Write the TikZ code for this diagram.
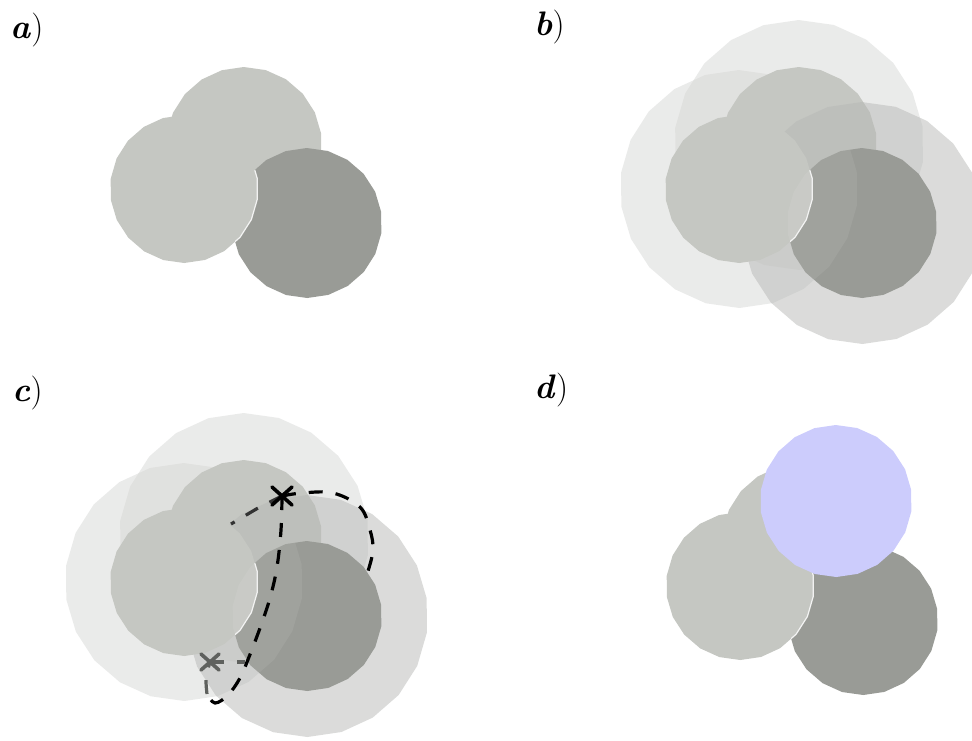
\documentclass[tikz,border=0pt]{standalone}
\usepackage{xcolor}
\usetikzlibrary{calc}
\definecolor{atomlight}{RGB}{197,199,194}
\definecolor{atomdark}{RGB}{153,155,150}
\definecolor{halolight}{RGB}{214,215,213}
\definecolor{halodark}{RGB}{183,184,182}
\definecolor{probeblue}{RGB}{204,204,252}
\definecolor{markgrey}{RGB}{95,97,94}
\newcommand\polyat[3]{plot[samples=23,domain=8:368,variable=\ang]({#1+#3*cos(\ang)},{#2+#3*sin(\ang)}) -- cycle}
\tikzset{
  halo/.style={fill opacity=0.5},
  seam/.style={draw=white,line width=0.6pt,opacity=0.85},
  pathline/.style={draw=black,line width=1.6pt,dash pattern=on 7pt off 6.5pt},
  greyline/.style={draw=markgrey,line width=1.6pt,dash pattern=on 7pt off 6.5pt},
  crossmark/.style={line width=1.8pt,line cap=round},
  panellabel/.style={anchor=base west,inner sep=0pt,font=\fontsize{17}{20}\selectfont}
}
\newcommand\atomA{\polyat{244}{145}{78}}
\newcommand\atomB{\polyat{184}{189}{74}}
\newcommand\atomC{\polyat{307}{223}{75}}
\newcommand\plainatoms{%
  \fill[atomlight] \atomA;
  \fill[atomdark] \atomC;
  \fill[atomlight] \atomB;
  \begin{scope}\clip \atomC; \draw[seam] \atomB; \end{scope}}
\newcommand\haloatoms{%
  \fill[halolight,halo] \polyat{244}{145}{125};
  \fill[halolight,halo] \polyat{184}{189}{119};
  \fill[atomlight] \atomA;
  \fill[halodark,halo] \polyat{307}{223}{121};
  \fill[atomdark] \atomC;
  \fill[atomlight] \atomB;
  \begin{scope}\clip \atomC; \draw[seam] \atomB;
    \fill[white,fill opacity=0.07] \polyat{184}{189}{119}; \end{scope}}
\begin{document}
\begin{tikzpicture}[x=0.5pt,y=-0.5pt]
\useasboundingbox (0,0) rectangle (972,740);
\clip (0,0) rectangle (972,740);
% panel a
\plainatoms
% panel b
\begin{scope}[shift={(555,0)}]
\haloatoms
\end{scope}
% panel c
\begin{scope}[shift={(0,393)}]
\haloatoms
\end{scope}
% panel d
\begin{scope}[shift={(556,397)}]
\plainatoms
\end{scope}
\fill[probeblue] \polyat{836}{501}{76};
% dashed paths in panel c
\coordinate (xtop) at (282,496);
\coordinate (xlow) at (210,662);
\coordinate (bend) at (207,694);
\draw[pathline] plot[smooth,tension=0.6] coordinates {(xtop) (281,530) (277,567) (270,598) (260,628) (249,657) (240,678) (228,695) (215,703) (bend)};
\draw[greyline] plot[smooth] coordinates {(bend) (206,678) (xlow)};
\draw[pathline] plot[smooth,tension=0.6] coordinates {(xtop) (302,493) (333,493) (360,507) (370,530) (373,550) (368,571)};
\draw[pathline,draw=black!80] (xtop) -- (258,508) -- (231,524);
\draw[greyline] (xlow) -- (245,662);
\draw[crossmark,black] ($(xtop)+(-10,-9)$) -- ($(xtop)+(10,9)$);
\draw[crossmark,black] ($(xtop)+(10,-9)$) -- ($(xtop)+(-10,9)$);
\draw[crossmark,markgrey] ($(xlow)+(-9,-8)$) -- ($(xlow)+(9,8)$);
\draw[crossmark,markgrey] ($(xlow)+(9,-8)$) -- ($(xlow)+(-9,8)$);
% labels
\node[panellabel] (la) at (10,38) {\textbf{\textit{a}})};
\node[panellabel] (lb) at (534,35) {\textbf{\textit{b}})};
\node[panellabel] (lc) at (12,401) {\textbf{\textit{c}})};
\node[panellabel] (ld) at (534,398) {\textbf{\textit{d}})};
\end{tikzpicture}
\end{document}
